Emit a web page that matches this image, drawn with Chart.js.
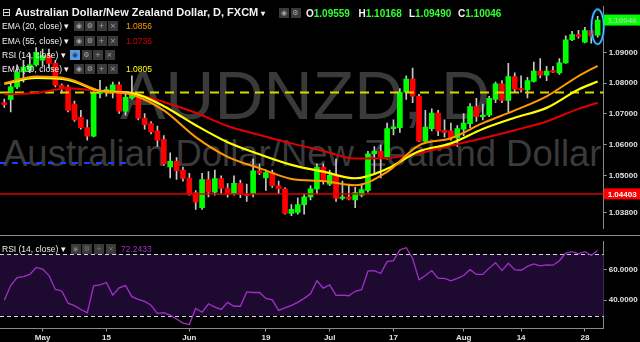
<!DOCTYPE html>
<html>
<head>
<meta charset="utf-8">
<script src="https://cdn.jsdelivr.net/npm/chart.js@4.4.0/dist/chart.umd.min.js"></script>
<style>
html, body { margin:0; padding:0; background:#000; overflow:hidden; }
#wrap { position:relative; width:640px; height:342px; font-family:"Liberation Sans", Arial, sans-serif; }
.wm { position:absolute; color:#3a3a3a; white-space:nowrap; line-height:1; }
canvas { position:absolute; left:0; }
.lg { position:absolute; white-space:nowrap; color:#f0f0f0; font-size:8.5px; line-height:10px; }
.ic { position:absolute; width:10px; height:10px; background:#3a3a3a; color:#a8a8a8; text-align:center;
      font-family:"DejaVu Sans", sans-serif; font-size:7px; line-height:10px; }
.hd { position:absolute; white-space:nowrap; color:#f2f2f2; font-weight:bold; line-height:13px; }
.g { color:#33ff33; }
</style>
</head>
<body>
<div id="wrap">
  <div class="wm" style="left:120px; top:61px; font-size:68px;">AUDNZD, D</div>
  <div class="wm" style="left:3px; top:135.8px; font-size:36.5px;">Australian Dollar/New Zealand Dollar</div>

  <canvas id="c1" width="640" height="235" style="top:0"></canvas>
  <canvas id="c2" width="640" height="107" style="top:235px"></canvas>

  <div class="hd" style="left:2px; top:6px; font-size:11px; font-weight:normal; font-family:'DejaVu Sans';">&#8863;</div>
  <div class="hd" style="left:15px; top:6px; font-size:11px;">Australian Dollar/New Zealand Dollar, D, FXCM <span style="font-size:8px">&#9662;</span></div>
  <div class="ic" style="left:279px; top:8px;">&#9673;</div>
  <div class="ic" style="left:290.5px; top:8px;">&#9881;</div>
  <div class="hd" style="left:306px; top:6.5px; font-size:10px;">O<span class="g">1.09559</span></div>
  <div class="hd" style="left:358.5px; top:6.5px; font-size:10px;">H<span class="g">1.10168</span></div>
  <div class="hd" style="left:409px; top:6.5px; font-size:10px;">L<span class="g">1.09490</span></div>
  <div class="hd" style="left:458px; top:6.5px; font-size:10px;">C<span class="g">1.10046</span></div>

  <div class="lg" style="left:2px; top:21px;">EMA (20, close) &#9662;</div>
  <div class="ic" style="left:74px; top:21px;">&#9673;</div><div class="ic" style="left:85px; top:21px;">&#9881;</div>
  <div class="ic" style="left:96.5px; top:21px;">+</div><div class="ic" style="left:108px; top:21px;">&#215;</div>
  <div class="lg" style="left:126px; top:21px; color:#ff9a00;">1.0856</div>

  <div class="lg" style="left:2px; top:35.5px;">EMA (55, close) &#9662;</div>
  <div class="ic" style="left:74px; top:35.5px;">&#9673;</div><div class="ic" style="left:85px; top:35.5px;">&#9881;</div>
  <div class="ic" style="left:96.5px; top:35.5px;">+</div><div class="ic" style="left:108px; top:35.5px;">&#215;</div>
  <div class="lg" style="left:126px; top:35.5px; color:#d40000;">1.0736</div>

  <div class="lg" style="left:2px; top:49.5px;">RSI (14, close) &#9662;</div>
  <div class="ic" style="left:70px; top:49.5px; background:#5a9be0; color:#1d3f6e;">&#9673;</div><div class="ic" style="left:81.5px; top:49.5px;">&#9881;</div>
  <div class="ic" style="left:93px; top:49.5px;">+</div><div class="ic" style="left:104.5px; top:49.5px;">&#215;</div>

  <div class="lg" style="left:2px; top:63.5px;">EMA (30, close) &#9662;</div>
  <div class="ic" style="left:74px; top:63.5px;">&#9673;</div><div class="ic" style="left:85px; top:63.5px;">&#9881;</div>
  <div class="ic" style="left:96.5px; top:63.5px;">+</div><div class="ic" style="left:108px; top:63.5px;">&#215;</div>
  <div class="lg" style="left:126px; top:63.5px; color:#ffff00;">1.0805</div>

  <div class="lg" style="left:2px; top:243.5px;">RSI (14, close) &#9662;</div>
  <div class="ic" style="left:70.5px; top:243.5px; color:#777;">&#9673;</div><div class="ic" style="left:82px; top:243.5px; color:#777;">&#9881;</div>
  <div class="ic" style="left:94px; top:243.5px; color:#777;">+</div><div class="ic" style="left:106px; top:243.5px; color:#777;">&#215;</div>
  <div class="lg" style="left:121px; top:243.5px; color:#a030c8;">72.2433</div>
</div>

<script>
// daily bars, 23 Apr .. 30 Aug (index 0..93)
const opens = [1.07367,1.07471,1.07878,1.08367,1.08419,1.0859,1.08743,1.08896,1.08642,1.0793,
  1.07878,1.07318,1.0689,1.06554,1.06278,1.07664,1.07725,1.07746,1.07948,1.07092,
  1.0752,1.0752,1.06859,1.06685,1.0645,1.06174,1.05278,1.05462,1.05177,1.04921,
  1.04444,1.03954,1.04872,1.04462,1.04902,1.04596,1.04413,1.04749,1.04376,1.04413,
  1.05156,1.04921,1.05095,1.04667,1.04566,1.03771,1.03801,1.04055,1.04309,1.04566,
  1.05278,1.04719,1.05003,1.0426,1.04309,1.04208,1.04361,1.04514,1.05707,1.05789,
  1.05584,1.06523,1.06554,1.07703,1.08132,1.07572,1.06113,1.06523,1.07031,1.06471,
  1.0645,1.06217,1.06502,1.06685,1.07236,1.06908,1.0696,1.07471,1.07979,1.0744,
  1.08214,1.07826,1.07777,1.08052,1.08388,1.08254,1.08407,1.0833,1.08658,1.09413,
  1.09575,1.09327,1.09706,1.09559];
const highs = [1.0748,1.08031,1.0859,1.08743,1.08948,1.09153,1.09101,1.09101,1.08743,1.07979,
  1.07939,1.07419,1.07113,1.06807,1.07826,1.08092,1.07878,1.08031,1.08031,1.07725,
  1.08235,1.07624,1.07012,1.06755,1.06603,1.06297,1.05737,1.05584,1.05278,1.05074,
  1.04514,1.05074,1.05126,1.05177,1.04994,1.04737,1.04994,1.0485,1.04719,1.05532,
  1.05379,1.05177,1.05177,1.0482,1.04606,1.04055,1.04278,1.04413,1.04667,1.05379,
  1.05379,1.05177,1.05532,1.0482,1.04719,1.04615,1.04719,1.05789,1.05942,1.05991,
  1.06706,1.06807,1.07826,1.08235,1.08489,1.07633,1.07113,1.07165,1.07113,1.06807,
  1.06706,1.06624,1.07012,1.07336,1.07502,1.07318,1.07572,1.08031,1.08083,1.08642,
  1.08336,1.08235,1.08184,1.08682,1.08795,1.08541,1.08541,1.08795,1.09538,1.09682,
  1.09713,1.09813,1.09713,1.10168];
const lows = [1.07214,1.07061,1.07817,1.08031,1.08336,1.0855,1.08541,1.08489,1.07878,1.07673,
  1.07061,1.06755,1.06502,1.06144,1.06257,1.0752,1.07572,1.0752,1.07012,1.0696,
  1.0748,1.06807,1.06502,1.06349,1.05942,1.0533,1.04921,1.04872,1.0482,1.04361,
  1.03902,1.03902,1.04309,1.04361,1.04413,1.043,1.04361,1.04278,1.04156,1.04309,
  1.05025,1.04514,1.04615,1.04413,1.03749,1.03697,1.03749,1.03749,1.04208,1.04413,
  1.04719,1.04667,1.04156,1.04208,1.04208,1.03954,1.04309,1.04462,1.05074,1.04921,
  1.05532,1.06318,1.06401,1.07471,1.07367,1.06095,1.06095,1.0645,1.06297,1.06248,
  1.06144,1.05942,1.06297,1.06554,1.06755,1.06807,1.06908,1.07367,1.07367,1.07061,
  1.07725,1.07703,1.0752,1.08031,1.08168,1.08083,1.08336,1.08284,1.08642,1.09376,
  1.09459,1.09306,1.09297,1.0949];
const closes = [1.07297,1.07878,1.08358,1.0852,1.0859,1.09,1.08896,1.08642,1.0793,1.07826,
  1.07113,1.06807,1.06554,1.06278,1.07673,1.0771,1.07786,1.07948,1.07092,1.07541,
  1.07673,1.06859,1.06654,1.06419,1.06144,1.05379,1.05462,1.05156,1.04902,1.04392,
  1.04138,1.04872,1.04462,1.04902,1.04584,1.04382,1.04749,1.04392,1.04346,1.05156,
  1.05074,1.05095,1.04667,1.04566,1.03771,1.03902,1.04055,1.04309,1.04566,1.05278,
  1.0482,1.05003,1.0426,1.04309,1.0423,1.04444,1.04544,1.05707,1.05789,1.05606,
  1.06523,1.06584,1.07703,1.08132,1.07572,1.06113,1.06572,1.07031,1.0645,1.06401,
  1.06217,1.06523,1.06706,1.07236,1.06908,1.0696,1.07502,1.07979,1.0744,1.08214,
  1.07807,1.07777,1.08083,1.08388,1.08254,1.08388,1.08358,1.08658,1.09407,1.09575,
  1.09514,1.09706,1.09532,1.10046];

// EMA lines read at every 5th bar
const emaBars = [0,5,10,15,20,25,30,35,40,45,50,55,60,65,70,75,80,85,90,93];
const ema20 = [1.08,1.08214,1.08138,1.07755,1.07624,1.07113,1.06245,1.05606,1.05239,1.0489,
  1.0482,1.04682,1.05119,1.05982,1.06211,1.067,1.07113,1.07572,1.08229,1.0856];
const ema30 = [1.07979,1.08168,1.08107,1.07746,1.07673,1.07251,1.06633,1.0608,1.05688,1.05346,
  1.05126,1.04911,1.05217,1.05786,1.06043,1.06511,1.06875,1.07196,1.07792,1.0805];
const ema55 = [1.07642,1.07679,1.07832,1.0774,1.07673,1.07388,1.07037,1.06609,1.06318,1.06043,
  1.05798,1.05554,1.05569,1.05722,1.05973,1.06211,1.06471,1.06755,1.07165,1.0736];

const rsi = [40,49.5,54.6,55.3,56.7,61.2,60.2,56,47,46,
  38.1,36.5,34,31.8,49.3,49.9,51.5,43.3,48,49.5,
  42.3,40.6,39.2,36.7,31.5,32,30.3,27.8,25.2,24.3,
  34.6,32.2,37.7,35.5,34,38.6,36.1,36.1,45.4,45,
  45,41.2,40.2,33.4,35,36.7,38.6,41.2,44.1,52.6,
  47.8,49.9,43.1,43.3,42.9,45.8,46.8,58.8,59.2,57.3,
  65,65.6,72.6,74,67,53.2,56,59.2,54.2,54.2,
  52.6,54.2,56,59.8,56.7,56.7,60.8,64.3,59.2,63.9,
  59.8,59.4,61.9,63.5,62.3,62.9,62.7,65.6,70.5,71.5,
  70.1,71.5,69.1,72.2];

const priceTicks = [1.038,1.05,1.06,1.07,1.08,1.09];
const rsiTicks = [40,60];
const rsiBands = [70,30];
const xTickIdx = [6,16,29,41,51,61,72,81,91];
const xTickText = ['May','15','Jun','19','Jul','17','Aug','14','28'];

const supportLevel = 1.04403;   // red line
const dashLevel = 1.07694;      // yellow dashed
const blueLevel = 1.05407;      // blue dashed, left part only
const blueEnd = 19.4;
const lastPrice = closes[closes.length-1];

const xMin = -0.674, xMax = 93.95;

function pts(xs, ys){ return ys.map((v,i)=>({x:xs[i], y:v})); }
const idx = closes.map((c,i)=>i);

const axisW = function(s){ s.width = 36.3; };

const pricePlugin = {
  id:'pricePlugin',
  afterDraw(chart){
    const ctx = chart.ctx, ys = chart.scales.y, xs = chart.scales.x;
    const ca = chart.chartArea;
    // ellipse round last bar
    const n = closes.length-1;
    const cx = xs.getPixelForValue(n);
    const yh = ys.getPixelForValue(highs[n]), yl = ys.getPixelForValue(lows[n]);
    ctx.save();
    ctx.beginPath();
    ctx.ellipse(cx, (yh+yl)/2, 6.2, (yl-yh)/2+7, 0, 0, Math.PI*2);
    ctx.strokeStyle = '#1565c0'; ctx.lineWidth = 2.5; ctx.stroke();
    ctx.strokeStyle = '#5fd8f0'; ctx.lineWidth = 1; ctx.stroke();
    // price labels on axis
    ctx.font = 'bold 8px "Liberation Sans", Arial';
    ctx.textBaseline = 'middle';
    let y = ys.getPixelForValue(supportLevel);
    ctx.fillStyle = '#ff0000';
    ctx.fillRect(ca.right, y-5.5, 640-ca.right, 11);
    ctx.fillStyle = '#ffffff';
    ctx.fillText(supportLevel.toFixed(5), ca.right+4, y+0.5);
    y = ys.getPixelForValue(lastPrice);
    ctx.fillStyle = '#00ff00';
    ctx.fillRect(ca.right, y-5.5, 640-ca.right, 11);
    ctx.fillStyle = '#9ad89a';
    ctx.fillText(lastPrice.toFixed(5), ca.right+4, y+0.5);
    ctx.restore();
  }
};

new Chart(document.getElementById('c1'), {
  type:'bar',
  data:{
    datasets:[
      { type:'line', data:[{x:xMin,y:dashLevel},{x:xMax,y:dashLevel}], borderColor:'#d8d800', borderWidth:2,
        borderDash:[9,6], pointRadius:0, order:4 },
      { type:'line', data:[{x:xMin,y:blueLevel},{x:blueEnd,y:blueLevel}], borderColor:'#1f3cff', borderWidth:2,
        borderDash:[6,6], pointRadius:0, order:4 },
      { type:'line', data:[{x:xMin,y:supportLevel},{x:xMax,y:supportLevel}], borderColor:'#e00000', borderWidth:1.5,
        pointRadius:0, order:4 },
      { type:'line', data:pts(emaBars, ema55), borderColor:'#e00000', borderWidth:2, pointRadius:0,
        cubicInterpolationMode:'monotone', order:3 },
      { type:'line', data:pts(emaBars, ema30), borderColor:'#ffff00', borderWidth:2.2, pointRadius:0,
        cubicInterpolationMode:'monotone', order:2 },
      { type:'line', data:pts(emaBars, ema20), borderColor:'#ff9a00', borderWidth:2, pointRadius:0,
        cubicInterpolationMode:'monotone', order:1 },
      { data: idx.map(i=>({x:i, y:[lows[i], highs[i]]})), backgroundColor:'#c8c8c8',
        barThickness:1, grouped:false, order:6 },
      { data: idx.map(i=>({x:i, y:[opens[i], closes[i]]})),
        backgroundColor: idx.map(i=> closes[i]>=opens[i] ? '#00ff00' : '#ff0000'),
        barThickness:5, minBarLength:1, grouped:false, order:5 }
    ]
  },
  options:{
    responsive:false, animation:false, devicePixelRatio:1,
    layout:{ padding:0 },
    plugins:{ legend:{display:false}, tooltip:{enabled:false} },
    scales:{
      x:{ type:'linear', min:xMin, max:xMax, offset:false, display:false },
      y:{ position:'right', min:1.0329, max:1.10477, afterFit:axisW,
          afterBuildTicks:(s)=>{ s.ticks = priceTicks.map(v=>({value:v})); },
          ticks:{ autoSkip:false, padding:2, color:'#e0e0e0', font:{size:8, weight:'bold', family:'"Liberation Sans", Arial'},
                  callback:(v)=>Number(v).toFixed(5) },
          grid:{ display:true, drawOnChartArea:false, tickLength:3, color:'#9a9a9a' },
          border:{ display:true, color:'#8a8a8a' } }
    }
  },
  plugins:[pricePlugin]
});

const rsiPlugin = {
  id:'rsiPlugin',
  beforeDatasetsDraw(chart){
    const ctx = chart.ctx, ys = chart.scales.y, ca = chart.chartArea;
    const yTop = ys.getPixelForValue(rsiBands[0]), yBot = ys.getPixelForValue(rsiBands[1]);
    ctx.save();
    ctx.fillStyle = '#1e0a31';
    ctx.fillRect(ca.left, yTop, ca.right-ca.left, yBot-yTop);
    ctx.strokeStyle = '#d8d8d8'; ctx.lineWidth = 1; ctx.setLineDash([4,3]);
    rsiBands.forEach(b=>{
      const y = Math.round(ys.getPixelForValue(b))+0.5;
      ctx.beginPath(); ctx.moveTo(ca.left, y); ctx.lineTo(ca.right, y); ctx.stroke();
    });
    ctx.setLineDash([]);
    ctx.strokeStyle = '#8a8a8a';
    ctx.beginPath(); ctx.moveTo(0, 0.5); ctx.lineTo(640, 0.5); ctx.stroke();
    ctx.restore();
  }
};

new Chart(document.getElementById('c2'), {
  type:'line',
  data:{ datasets:[
    { data: pts(idx, rsi), borderColor:'#a030c8', borderWidth:1.3, pointRadius:0, tension:0 }
  ]},
  options:{
    responsive:false, animation:false, devicePixelRatio:1,
    layout:{ padding:0 },
    plugins:{ legend:{display:false}, tooltip:{enabled:false} },
    scales:{
      x:{ type:'linear', min:xMin, max:xMax, offset:false,
          afterFit:(s)=>{ s.height = 13.5; },
          afterBuildTicks:(s)=>{ s.ticks = xTickIdx.map(v=>({value:v})); },
          ticks:{ autoSkip:false, maxRotation:0, padding:1, color:'#e0e0e0',
                  font:{size:8, weight:'bold', family:'"Liberation Sans", Arial'},
                  callback:(v)=>xTickText[xTickIdx.indexOf(v)] },
          grid:{ display:true, drawOnChartArea:false, tickLength:3, color:'#9a9a9a' },
          border:{ display:true, color:'#8a8a8a' } },
      y:{ position:'right', min:21.68, max:77.84, afterFit:axisW,
          afterBuildTicks:(s)=>{ s.ticks = rsiTicks.map(v=>({value:v})); },
          ticks:{ autoSkip:false, padding:2, color:'#e0e0e0', font:{size:8, weight:'bold', family:'"Liberation Sans", Arial'},
                  callback:(v)=>Number(v).toFixed(4) },
          grid:{ display:true, drawOnChartArea:false, tickLength:3, color:'#9a9a9a' },
          border:{ display:true, color:'#8a8a8a' } }
    }
  },
  plugins:[rsiPlugin]
});
</script>
</body>
</html>
